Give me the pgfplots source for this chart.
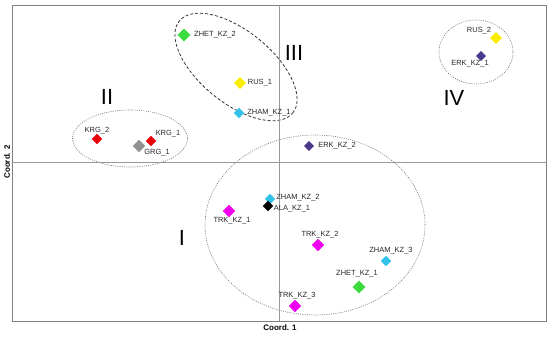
\documentclass[border=0pt]{standalone}
\usepackage{fontspec}
\setmainfont{Liberation Sans}
\usepackage{pgfplots}
\usepackage{pgfplotstable}
\pgfplotsset{compat=1.18}
\definecolor{cgreen}{RGB}{60,220,60}
\definecolor{cyellow}{RGB}{250,238,0}
\definecolor{ccyan}{RGB}{51,195,234}
\definecolor{cred}{RGB}{235,0,10}
\definecolor{cgray}{RGB}{145,145,145}
\definecolor{cpurple}{RGB}{74,56,140}
\definecolor{cmag}{RGB}{240,0,240}
\definecolor{boxgray}{RGB}{128,128,128}

\pgfplotstableread{
x y
184 302
359 50
}\zhet
\pgfplotstableread{
x y
240 254
496 299
}\rus
\pgfplotstableread{
x y
239 224
270 138
386 76
}\zham
\pgfplotstableread{
x y
97 198
151 196
}\krg
\pgfplotstableread{
x y
139 191
}\grg
\pgfplotstableread{
x y
309 191
481 281
}\erk
\pgfplotstableread{
x y
229 126
318 92
295 31
}\trk
\pgfplotstableread{
x y
268 131
}\ala
\pgfplotstableread{
x y lab
215 302 ZHET\_KZ\_2
260 254 RUS\_1
269 224 ZHAM\_KZ\_1
97 206 KRG\_2
168 203 KRG\_1
157 184 GRG\_1
337 191 ERK\_KZ\_2
479 306 RUS\_2
470 273 ERK\_KZ\_1
298 139 ZHAM\_KZ\_2
292 128 ALA\_KZ\_1
232 116 TRK\_KZ\_1
320 102 TRK\_KZ\_2
391 86 ZHAM\_KZ\_3
357 63 ZHET\_KZ\_1
297 41 TRK\_KZ\_3
}\labels

\begin{document}
\begin{tikzpicture}
\useasboundingbox (0,0) rectangle (550bp,337bp);
\begin{axis}[
  at={(12bp,16bp)}, anchor=south west,
  scale only axis, width=534bp, height=316bp,
  xmin=12, xmax=546, ymin=16, ymax=332,
  xtick=\empty, ytick=\empty,
  axis line style={boxgray, line width=0.8pt},
  clip=false,
  dmd/.style={only marks, mark=square*, mark options={rotate=45}},
]
% ellipses
\draw[black!80, line width=0.8pt, dash pattern=on 3bp off 2bp, rotate around={-39:(axis cs:236,270)}]
  (axis cs:236,270) ellipse [x radius=73bp, y radius=36bp];
\draw[gray!90!black, line width=0.6pt, dash pattern=on 1bp off 1.2bp]
  (axis cs:315,112) ellipse [x radius=110bp, y radius=90bp];
\draw[gray!90!black, line width=0.6pt, dash pattern=on 1bp off 1.2bp]
  (axis cs:130,198.5) ellipse [x radius=57.5bp, y radius=28.5bp];
\draw[gray!90!black, line width=0.6pt, dash pattern=on 1bp off 1.2bp]
  (axis cs:476,285) ellipse [x radius=37bp, y radius=32bp];
% zero lines
\draw[gray!80, line width=0.5pt] (axis cs:279,16) -- (axis cs:279,332);
\draw[gray!80, line width=0.5pt] (axis cs:12,175) -- (axis cs:546,175);
% markers
\addplot[dmd, mark size=4.3bp, color=cgreen] table {\zhet};
\addplot[dmd, mark size=3.9bp, color=cyellow] table {\rus};
\addplot[dmd, mark size=3.5bp, color=ccyan] table {\zham};
\addplot[dmd, mark size=3.5bp, color=cred] table {\krg};
\addplot[dmd, mark size=4.2bp, color=cgray] table {\grg};
\addplot[dmd, mark size=3.2bp, color=cpurple] table {\erk};
\addplot[dmd, mark size=4.2bp, color=cmag] table {\trk};
\addplot[dmd, mark size=3.5bp, color=black] table {\ala};
% labels
\addplot[only marks, mark=none, nodes near coords, point meta=explicit symbolic,
  nodes near coords style={anchor=center, inner sep=0pt, font=\fontsize{7.5}{8}\selectfont, text=black!85}]
  table[x=x, y=y, meta=lab] {\labels};
% roman numerals
\node[font=\fontsize{22}{24}\selectfont] at (axis cs:107,240) {II};
\node[font=\fontsize{22}{24}\selectfont] at (axis cs:294,284) {III};
\node[font=\fontsize{22}{24}\selectfont] at (axis cs:454,239) {IV};
\node[font=\fontsize{22}{24}\selectfont] at (axis cs:182,99) {I};
% axis labels
\node[font=\bfseries\fontsize{8}{9}\selectfont] at (axis cs:280,9) {Coord. 1};
\node[font=\bfseries\fontsize{8}{9}\selectfont, rotate=90] at (axis cs:7,175) {Coord. 2};
\end{axis}
\end{tikzpicture}
\end{document}
